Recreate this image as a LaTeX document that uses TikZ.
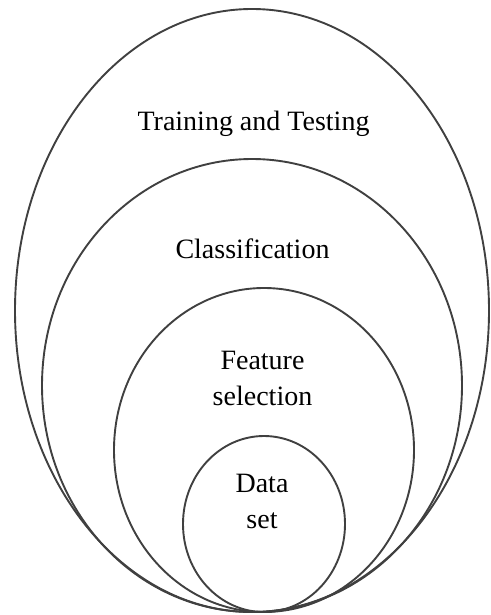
\documentclass[tikz,border=0pt]{standalone}
\usepackage{fontspec}
\setmainfont{Liberation Serif}

\tikzset{
  ring/.style={draw=black!75,line width=1.9pt},
  lbl/.style={font=\fontsize{28}{36}\selectfont,inner sep=0pt,align=center}
}

\begin{document}
\begin{tikzpicture}[x=1pt,y=-1pt]
        \useasboundingbox(0,0)rectangle(490,615);
        % Nested stages
        \draw[ring](252,310.5)ellipse[x radius=237,y radius=301.5];
        \draw[ring](252,385.5)ellipse[x radius=210,y radius=226.5];
        \draw[ring](264,450)ellipse[x radius=150,y radius=162];
        \draw[ring](264,524)ellipse[x radius=81,y radius=88];
        % Stage labels
        \node[lbl,anchor=base](train)at(253.5,131){Training and Testing};
        \node[lbl,anchor=base](classif)at(252.5,258){Classification};
        \node[lbl](featsel)at(262.5,378.5){Feature\\selection};
        \node[lbl](dataset)at(262,501.5){Data\\set};
\end{tikzpicture}
\end{document}
